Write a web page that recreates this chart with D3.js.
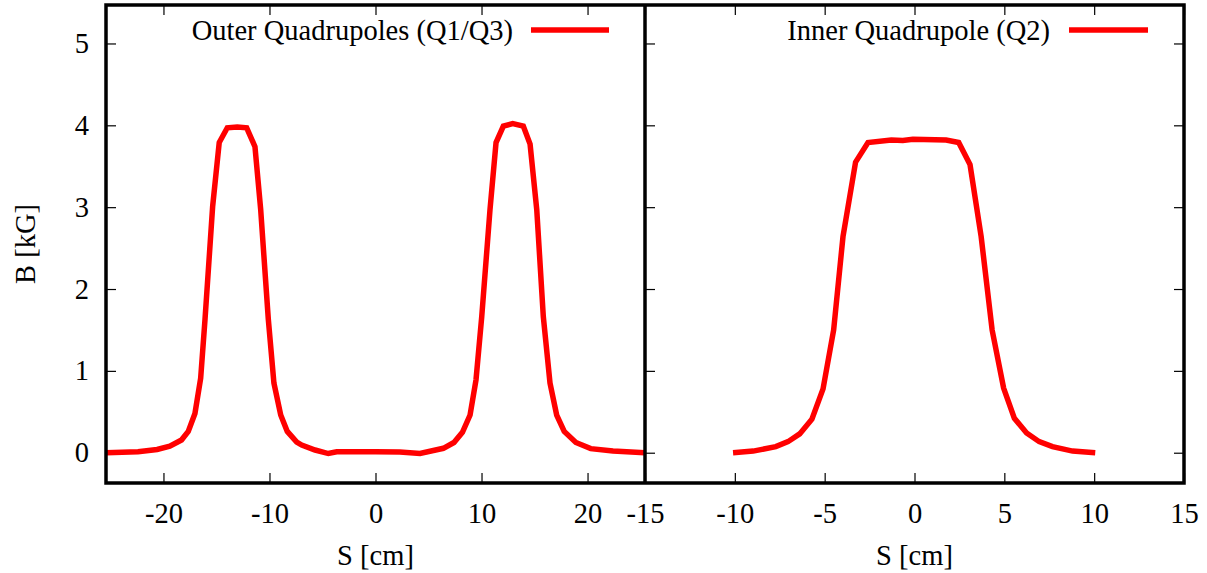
<!DOCTYPE html>
<html>
<head>
<meta charset="utf-8">
<script src="https://cdn.jsdelivr.net/npm/d3@7"></script>
<style>
  body { margin: 0; background: #fff; }
  svg text { font-family: "Liberation Serif", "Times New Roman", serif; fill: #000; }
</style>
</head>
<body>
<script>
// field profiles, S in cm, B in kG

let outerS = [-25.4, -22.4, -20.6, -19.4, -18.3, -17.66, -17.03, -16.49, -16.08, -15.36, -14.74, -13.98, -13.04, -12.15,
              -11.37, -10.83, -10.11, -9.58, -8.94, -8.32, -7.43, -6.96, -5.7, -4.45, -3.66, 0, 2.3, 4.2,
              6.4, 7.4, 8.2, 8.92, 9.48, 10.02, 10.8, 11.37, 12.06, 12.94, 13.94, 14.58, 15.21, 15.83,
              16.46, 17.09, 17.8, 18.9, 20.3, 22.4, 25.4]
let outerB = [0.0, 0.012, 0.04, 0.08, 0.155, 0.26, 0.48, 0.91, 1.63, 3.01, 3.79, 3.97, 3.98, 3.97,
              3.74, 2.97, 1.63, 0.85, 0.46, 0.26, 0.13, 0.094, 0.033, -0.01, 0.012, 0.012, 0.01, -0.01,
              0.054, 0.125, 0.25, 0.46, 0.89, 1.66, 2.97, 3.79, 3.99, 4.02, 3.99, 3.77, 2.97, 1.66,
              0.85, 0.46, 0.26, 0.125, 0.05, 0.02, 0.0]

let innerS = [-10.1, -8.98, -7.72, -7.04, -6.39, -5.71, -5.09, -4.5, -3.98, -3.28, -2.59, -1.29, -0.65,
              -0.09, 1.76, 2.46, 3.09, 3.71, 4.32, 4.96, 5.56, 6.24, 6.94, 7.68, 8.8, 10.06]
let innerB = [0.0, 0.02, 0.074, 0.135, 0.23, 0.41, 0.78, 1.5, 2.64, 3.55, 3.79, 3.82, 3.815,
              3.83, 3.82, 3.79, 3.52, 2.64, 1.5, 0.79, 0.42, 0.24, 0.135, 0.074, 0.02, 0.0]

let leftTicks = [-20, -10, 0, 10, 20]
let rightTicks = [-15, -10, -5, 0, 5, 10, 15]
let yTicks = [0, 1, 2, 3, 4, 5]

let w = 1207
let h = 573
let yTop = 5, yBot = 483
let x0 = 106, xMid = 645, x1 = 1184
let fs = 28.5

let svg = d3.select("body")
    .append("svg")
    .attr("width", w)
    .attr("height", h)

let y = d3.scaleLinear().domain([-0.37, 5.47]).range([yBot, yTop])
let xL = d3.scaleLinear().domain([-25.42, 25.42]).range([x0, xMid])
let xR = d3.scaleLinear().domain([-15, 15]).range([xMid, x1])

let fmt = d => String(d)   // plain hyphen minus like gnuplot

function styleAxis(g, labels) {
    g.select(".domain").remove()
    g.selectAll(".tick line").attr("stroke", "#000").attr("stroke-width", 1.2)
    g.selectAll("text").attr("font-size", fs + "px").attr("font-family", "Liberation Serif")
    if (!labels) g.selectAll("text").remove()
}

// left panel axes
svg.append("g").attr("transform", `translate(0,${yBot})`)
    .call(d3.axisBottom(xL).tickValues(leftTicks).tickSize(-10).tickPadding(20).tickFormat(fmt))
    .call(g => styleAxis(g, true))
svg.append("g").attr("transform", `translate(0,${yTop})`)
    .call(d3.axisTop(xL).tickValues(leftTicks).tickSize(-10))
    .call(g => styleAxis(g, false))
svg.append("g").attr("transform", `translate(${x0},0)`)
    .call(d3.axisLeft(y).tickValues(yTicks).tickSize(-10).tickPadding(17).tickFormat(fmt))
    .call(g => styleAxis(g, true))

// right panel axes
svg.append("g").attr("transform", `translate(0,${yBot})`)
    .call(d3.axisBottom(xR).tickValues(rightTicks).tickSize(-10).tickPadding(20).tickFormat(fmt))
    .call(g => styleAxis(g, true))
svg.append("g").attr("transform", `translate(0,${yTop})`)
    .call(d3.axisTop(xR).tickValues(rightTicks).tickSize(-10))
    .call(g => styleAxis(g, false))
svg.append("g").attr("transform", `translate(${xMid},0)`)
    .call(d3.axisLeft(y).tickValues(yTicks).tickSize(-10))
    .call(g => styleAxis(g, false))
svg.append("g").attr("transform", `translate(${x1},0)`)
    .call(d3.axisRight(y).tickValues(yTicks).tickSize(-10))
    .call(g => styleAxis(g, false))

// the curves
let lineL = d3.line().x(i => xL(outerS[i])).y(i => y(outerB[i]))
let lineR = d3.line().x(i => xR(innerS[i])).y(i => y(innerB[i]))

svg.append("path")
    .attr("d", lineL(d3.range(outerS.length)))
    .attr("fill", "none").attr("stroke", "#ff0000").attr("stroke-width", 5.5)
    .attr("stroke-linejoin", "miter")
svg.append("path")
    .attr("d", lineR(d3.range(innerS.length)))
    .attr("fill", "none").attr("stroke", "#ff0000").attr("stroke-width", 5.5)
    .attr("stroke-linejoin", "miter")

// frames
svg.append("rect")
    .attr("x", x0).attr("y", yTop).attr("width", x1 - x0).attr("height", yBot - yTop)
    .attr("fill", "none").attr("stroke", "#000").attr("stroke-width", 3.5)
svg.append("line")
    .attr("x1", xMid).attr("x2", xMid).attr("y1", yTop).attr("y2", yBot)
    .attr("stroke", "#000").attr("stroke-width", 3.5)

// legends
let legends = [
    { text: "Outer Quadrupoles (Q1/Q3)", tx: 513, lx: [531, 609] },
    { text: "Inner Quadrupole (Q2)", tx: 1050, lx: [1069, 1148] }
]
legends.forEach(d => {
    svg.append("text").text(d.text)
        .attr("x", d.tx).attr("y", 40)
        .attr("text-anchor", "end").attr("font-size", fs + "px")
    svg.append("line")
        .attr("x1", d.lx[0]).attr("x2", d.lx[1]).attr("y1", 30).attr("y2", 30)
        .attr("stroke", "#ff0000").attr("stroke-width", 5.5)
})

// axis titles
svg.append("text").text("B [kG]")
    .attr("transform", `translate(35,${(yTop + yBot) / 2}) rotate(-90)`)
    .attr("text-anchor", "middle").attr("font-size", fs + "px")
svg.append("text").text("S [cm]")
    .attr("x", xL(0)).attr("y", 565)
    .attr("text-anchor", "middle").attr("font-size", fs + "px")
svg.append("text").text("S [cm]")
    .attr("x", xR(0)).attr("y", 565)
    .attr("text-anchor", "middle").attr("font-size", fs + "px")
</script>
</body>
</html>
